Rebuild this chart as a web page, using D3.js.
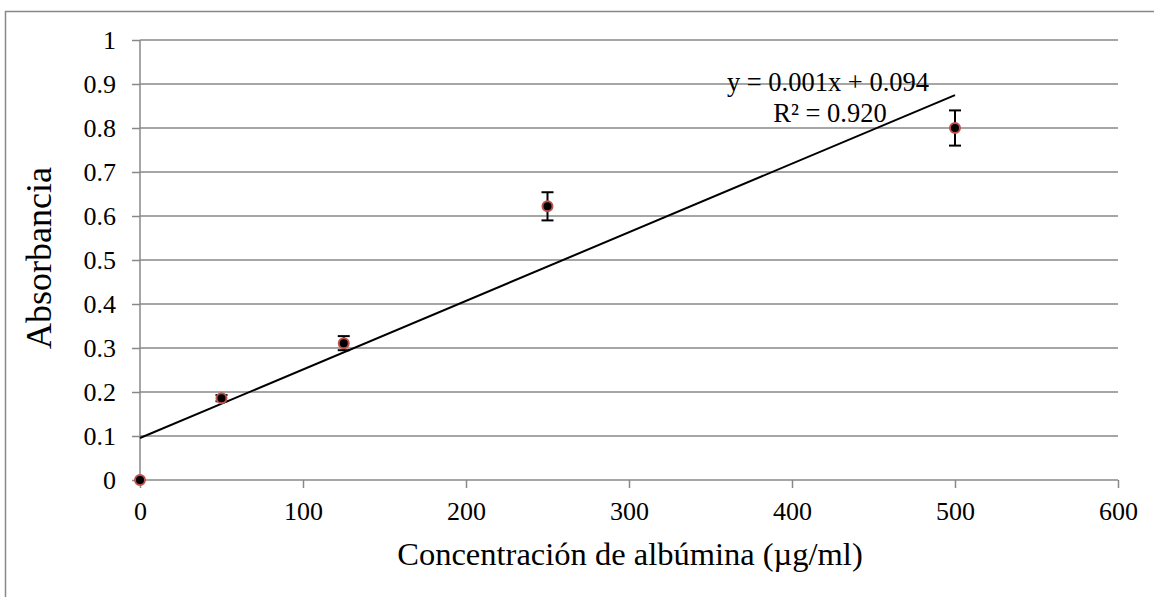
<!DOCTYPE html>
<html><head><meta charset="utf-8">
<script src="https://cdn.jsdelivr.net/npm/d3@7"></script>
<style>body{margin:0;background:#fff}svg{display:block}svg text{font-family:'Liberation Serif','Times New Roman',serif;fill:#000}</style>
</head><body>
<script>
const concentrations = [0, 50, 125, 250, 500];
const absorbance = [0, 0.186, 0.311, 0.622, 0.80];
const errors = [0, 0.007, 0.016, 0.032, 0.04];
const xTicks = [0, 100, 200, 300, 400, 500, 600];
const yTicks = [0, 0.1, 0.2, 0.3, 0.4, 0.5, 0.6, 0.7, 0.8, 0.9, 1];
const equationLines = ["y = 0.001x + 0.094", "R² = 0.920"];

const W = 1154, H = 597;
const svg = d3.select("body").append("svg").attr("width", W).attr("height", H);
const font = "Liberation Serif";
const grid = "#888888";

svg.append("rect").attr("x", 5.5).attr("y", 11.5).attr("width", W + 10).attr("height", H + 10)
  .attr("fill", "none").attr("stroke", grid).attr("stroke-width", 1.5);

const x = d3.scaleLinear().domain([0, 600]).range([140, 1118]);
const y = d3.scaleLinear().domain([0, 1]).range([480, 40]);

// horizontal gridlines
svg.append("g").selectAll("line").data(yTicks.filter(d => d > 0)).join("line")
  .attr("x1", x(0)).attr("x2", x(600)).attr("y1", d => y(d)).attr("y2", d => y(d))
  .attr("stroke", grid).attr("stroke-width", 1.5);

// y axis
const yAxis = svg.append("g").attr("transform", `translate(${x(0)},0)`)
  .call(d3.axisLeft(y).tickValues(yTicks).tickSize(8).tickPadding(16).tickFormat(d => String(+d.toFixed(1))));
yAxis.attr("font-family", font).attr("font-size", 26);
yAxis.select(".domain").attr("stroke", grid).attr("stroke-width", 1.5).attr("d", `M0,${y(1)}V${y(0)}`);
yAxis.selectAll(".tick line").attr("stroke", grid).attr("stroke-width", 1.5);
yAxis.selectAll(".tick text").attr("font-family", font).style("font-family", font).style("font-size", "26px").attr("fill", "#000").attr("dy", "0.34em");

// x axis
const xAxis = svg.append("g").attr("transform", `translate(0,${y(0)})`)
  .call(d3.axisBottom(x).tickValues(xTicks).tickSize(8).tickPadding(12).tickFormat(d3.format("d")));
xAxis.attr("font-family", font).attr("font-size", 26);
xAxis.select(".domain").attr("stroke", grid).attr("stroke-width", 1.5).attr("d", `M${x(0)},0H${x(600)}`);
xAxis.selectAll(".tick line").attr("stroke", grid).attr("stroke-width", 1.5);
xAxis.selectAll(".tick text").attr("font-family", font).style("font-family", font).style("font-size", "26px").attr("fill", "#000")
  .attr("y", 40).attr("dy", 0);

// linear regression trendline
const n = concentrations.length;
const mx = d3.mean(concentrations), my = d3.mean(absorbance);
let sxy = 0, sxx = 0;
for (let i = 0; i < n; i++) { sxy += (concentrations[i]-mx)*(absorbance[i]-my); sxx += (concentrations[i]-mx)**2; }
const slope = sxy / sxx, intercept = my - slope * mx;
svg.append("line").attr("x1", x(0)).attr("y1", y(intercept))
  .attr("x2", x(500)).attr("y2", y(intercept + slope * 500))
  .attr("stroke", "#000").attr("stroke-width", 2);

// error bars
const eb = svg.append("g").attr("stroke", "#000").attr("stroke-width", 2);
concentrations.forEach((c, i) => {
  if (errors[i] <= 0) return;
  const cx = x(c), t = y(absorbance[i] + errors[i]), b = y(absorbance[i] - errors[i]);
  eb.append("line").attr("x1", cx).attr("x2", cx).attr("y1", t).attr("y2", b);
  eb.append("line").attr("x1", cx - 6).attr("x2", cx + 6).attr("y1", t).attr("y2", t);
  eb.append("line").attr("x1", cx - 6).attr("x2", cx + 6).attr("y1", b).attr("y2", b);
});

// markers
svg.append("g").selectAll("circle").data(concentrations).join("circle")
  .attr("cx", d => x(d)).attr("cy", (d, i) => y(absorbance[i])).attr("r", 5)
  .attr("fill", "#000").attr("stroke", "#c0504d").attr("stroke-width", 2);

// equation
svg.append("g").selectAll("text").data(equationLines).join("text")
  .attr("x", (d, i) => i === 0 ? 828 : 830).attr("y", (d, i) => 91 + i * 31)
  .attr("text-anchor", "middle").style("font-size", "26.5px").text(d => d);

// axis titles
svg.append("text").attr("x", 630).attr("y", 565).attr("text-anchor", "middle")
  .style("font-size", "32.5px").text("Concentración de albúmina (µg/ml)");
svg.append("text").attr("transform", "translate(51,258) rotate(-90)").attr("text-anchor", "middle")
  .style("font-size", "36px").text("Absorbancia");
</script>
</body></html>
